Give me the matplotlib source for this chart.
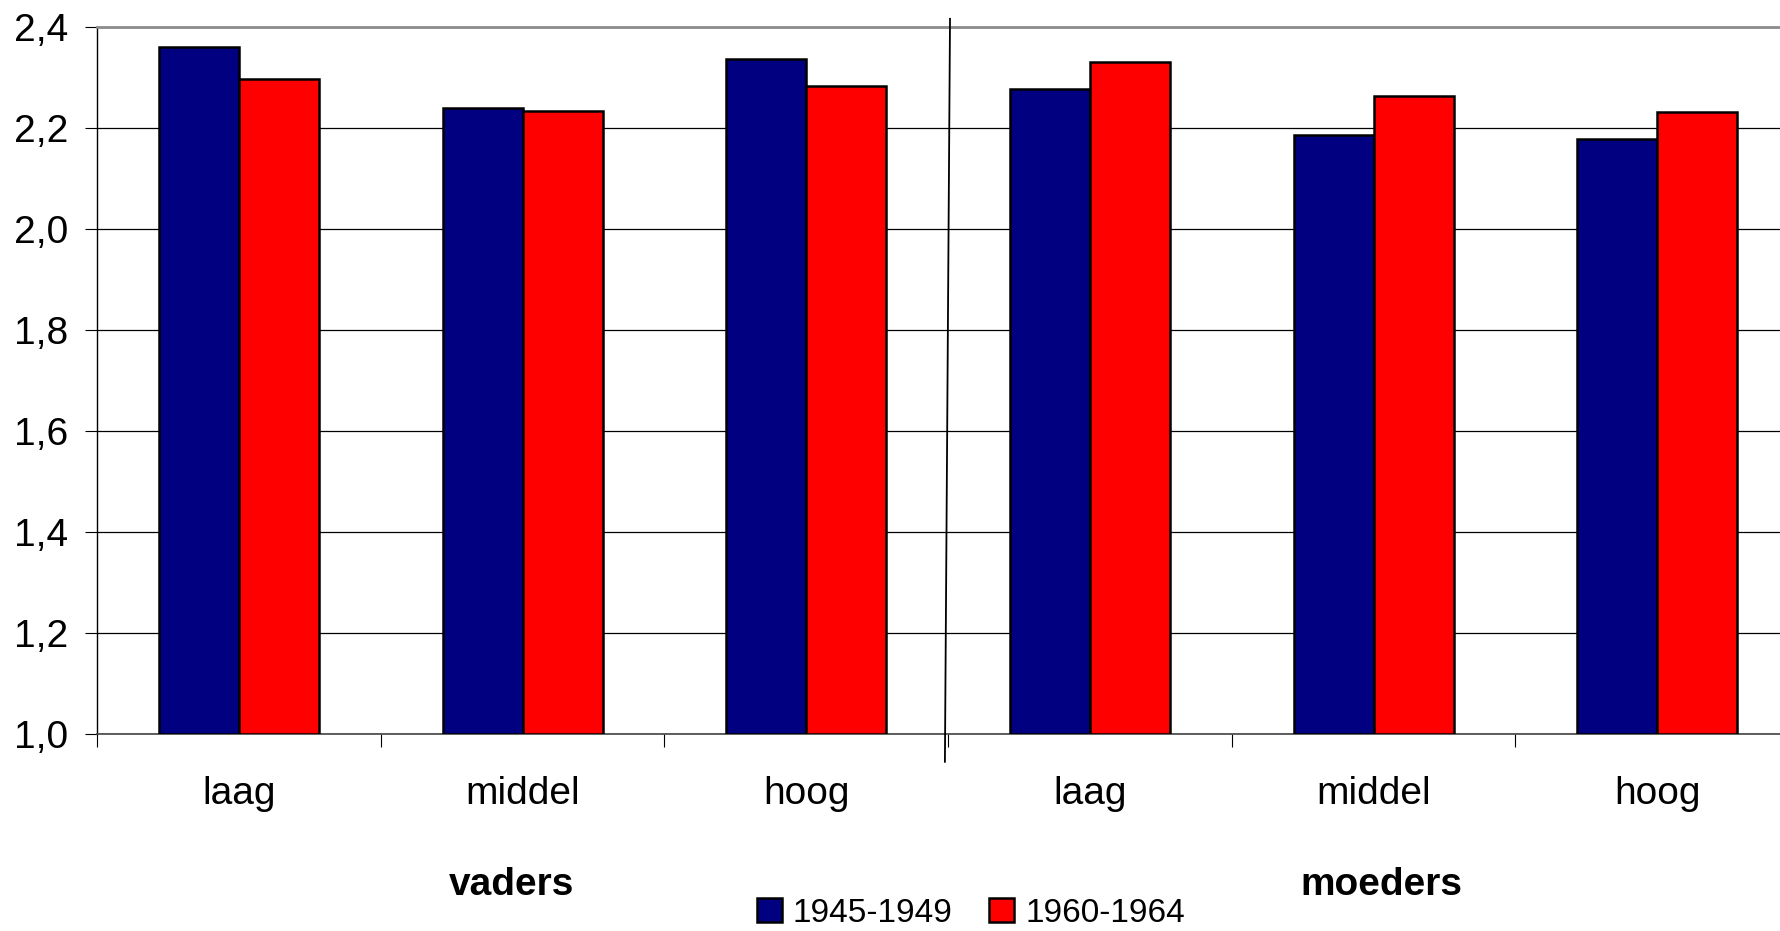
import matplotlib.pyplot as plt
import numpy as np

plt.rcParams['font.family'] = ['Liberation Sans', 'DejaVu Sans']

# categorieen en waarden
categorieen = ['laag', 'middel', 'hoog', 'laag', 'middel', 'hoog']
groepen = ['vaders', 'moeders']
reeksen = ['1945-1949', '1960-1964']
cohort_1945 = [2.360, 2.239, 2.337, 2.277, 2.185, 2.178]
cohort_1960 = [2.297, 2.234, 2.283, 2.331, 2.263, 2.232]
yticks = [1.0, 1.2, 1.4, 1.6, 1.8, 2.0, 2.2, 2.4]

blauw = '#000080'
rood = '#ff0000'
fs = 28

fig = plt.figure(figsize=(17.8, 9.31), dpi=100)
ax = fig.add_axes([0.0545, 0.2116, 0.9562, 0.7595])

x = np.arange(len(categorieen))
w = 0.282
ax.bar(x - w/2, np.array(cohort_1945) - 1.0, w, bottom=1.0, color=blauw,
       edgecolor='black', linewidth=1.8, label=reeksen[0], zorder=3)
ax.bar(x + w/2, np.array(cohort_1960) - 1.0, w, bottom=1.0, color=rood,
       edgecolor='black', linewidth=1.8, label=reeksen[1], zorder=3)

ax.set_xlim(-0.5, len(categorieen) - 0.5)
ax.set_ylim(1.0, 2.4)
ax.set_yticks(yticks)
ax.set_yticklabels([f'{v:.1f}'.replace('.', ',') for v in yticks], fontsize=fs)
ax.yaxis.grid(True, color='black', linewidth=0.9, zorder=0)

# ticks op de grenzen, labels in het midden
ax.set_xticks(np.arange(-0.5, len(categorieen)))
ax.set_xticklabels([])
ax.set_xticks(x, minor=True)
ax.set_xticklabels(categorieen, minor=True, fontsize=fs)
ax.tick_params(axis='x', which='major', length=9.5, width=0.8)
ax.tick_params(axis='x', which='minor', length=0, pad=30)
ax.tick_params(axis='y', length=8.6, width=0.8, pad=12)

ax.spines['top'].set_color('#8c8c8c')
ax.spines['top'].set_linewidth(2)
ax.spines['right'].set_color('#8c8c8c')
ax.spines['left'].set_linewidth(1)
ax.spines['bottom'].set_color('#444444')
ax.spines['bottom'].set_linewidth(1.2)

# scheidingslijn vaders / moeders
ax.plot([2.507, 2.489], [2.416, 0.945], color='black', linewidth=1.3,
        clip_on=False, zorder=4)

tr = ax.get_xaxis_transform()
ax.text(0.963, -0.2136, groepen[0], transform=tr, ha='center', va='center',
        fontsize=fs, fontweight='bold')
ax.text(4.027, -0.2136, groepen[1], transform=tr, ha='center', va='center',
        fontsize=fs, fontweight='bold')

fig.legend(loc='center', bbox_to_anchor=(0.5455, 0.019), ncol=2, frameon=False,
           fontsize=24, handlelength=0.75, handleheight=0.75,
           handletextpad=0.33, columnspacing=1.1, borderpad=0)

fig.savefig('out.png', dpi=100)
